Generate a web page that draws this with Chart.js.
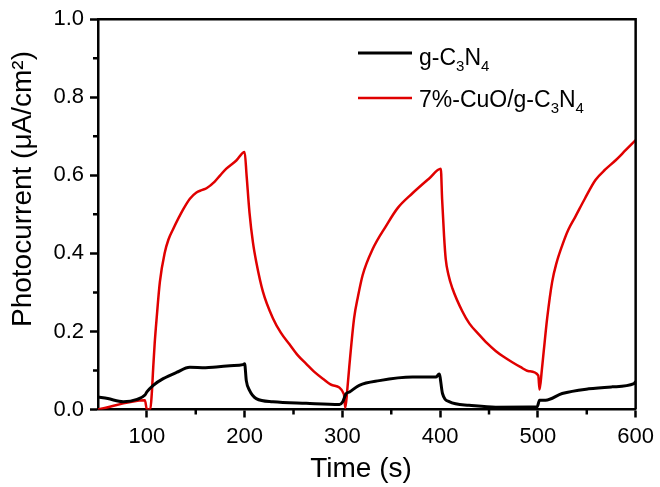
<!DOCTYPE html>
<html>
<head>
<meta charset="utf-8">
<script src="https://cdn.jsdelivr.net/npm/chart.js@4/dist/chart.umd.min.js"></script>
<style>
  body { margin: 0; background: #fff; }
  #wrap { width: 660px; height: 487px; }
</style>
</head>
<body>
<div id="wrap"><canvas id="photoChart" width="660" height="487"></canvas></div>
<script>
// g-C3N4 (black)
const timeBlack = [50, 60, 75.8, 90, 98, 100, 106.5, 116.7, 130.3, 143.9, 160, 171, 185, 198.3, 200, 201.7, 205, 211.9, 228.9, 263, 297, 300.4, 303.7, 307.3, 317.3, 337.8, 371.7, 395.6, 399, 402.4, 409.2, 429.6, 456.8, 499.3, 501.7, 507.8, 524.8, 552, 575.8, 598.3, 600];
const valBlack = [0.032, 0.028, 0.02, 0.026, 0.037, 0.045, 0.062, 0.079, 0.095, 0.108, 0.107, 0.109, 0.112, 0.115, 0.117, 0.074, 0.049, 0.028, 0.02, 0.016, 0.013, 0.02, 0.04, 0.045, 0.062, 0.074, 0.083, 0.083, 0.091, 0.041, 0.02, 0.011, 0.006, 0.007, 0.024, 0.024, 0.041, 0.053, 0.058, 0.066, 0.072];

// 7%-CuO/g-C3N4 (red)
const timeRed = [50, 98, 100, 103.5, 105, 106.5, 108, 110, 113.3, 118.4, 122, 126.8, 137, 144, 150.7, 156, 161, 169.4, 175, 181.3, 191.5, 200,
    202, 205, 208.5, 211.9, 218.7, 228.9, 237, 245.9, 254, 263, 271, 280, 290, 301.5,
    303, 305, 307, 312, 316, 320.7, 331, 344.6, 356.5, 371.7, 388.8, 400.7,
    402, 404, 405.7, 408.5, 412.6, 422.8, 430, 439.8, 448, 456.8, 465, 473.8, 482, 490.8, 500.4,
    501.7, 504, 506, 509.5, 514.6, 519, 524.8, 531, 538.5, 548, 558.9, 569, 579.3, 590, 600];
const valRed = [0, 0.024, 0, 0, 0.04, 0.108, 0.17, 0.234, 0.327, 0.403, 0.435, 0.462, 0.512, 0.54, 0.556, 0.562, 0.567, 0.584, 0.6, 0.617, 0.638, 0.66,
    0.6, 0.504, 0.428, 0.378, 0.302, 0.234, 0.197, 0.167, 0.14, 0.117, 0.097, 0.079, 0.062, 0.04,
    0.004, 0.05, 0.108, 0.234, 0.29, 0.344, 0.411, 0.47, 0.516, 0.554, 0.592, 0.617,
    0.54, 0.445, 0.386, 0.345, 0.31, 0.251, 0.22, 0.192, 0.17, 0.15, 0.135, 0.121, 0.109, 0.098, 0.087,
    0.051, 0.1, 0.15, 0.234, 0.327, 0.375, 0.42, 0.46, 0.495, 0.54, 0.588, 0.615, 0.638, 0.665, 0.69];

const xMajorTicks = [100, 200, 300, 400, 500, 600];
const xMinorTicks = [150, 250, 350, 450, 550];
const yMajorTicks = [0, 0.2, 0.4, 0.6, 0.8, 1.0];
const yMinorTicks = [0.1, 0.3, 0.5, 0.7, 0.9];

// "_" marks the next character as a subscript
const legendLabels = ['g-C_3N_4', '7%-CuO/g-C_3N_4'];
const legendColors = ['#000000', '#e00000'];
const xTitle = 'Time (s)';
const yTitle = 'Photocurrent (\u03bcA/cm\u00b2)';

const FONT = '"Liberation Sans", Arial, sans-serif';

function toPoints(xs, ys) {
    return xs.map((x, i) => ({ x: x, y: ys[i] }));
}

function drawRich(ctx, text, x, y, size) {
    let i = 0;
    while (i < text.length) {
        if (text[i] === '_') {
            ctx.font = Math.round(size * 0.65) + 'px ' + FONT;
            ctx.fillText(text[i + 1], x, y + size * 0.28);
            x += ctx.measureText(text[i + 1]).width;
            i += 2;
        } else {
            let j = i;
            while (j < text.length && text[j] !== '_') j++;
            const part = text.slice(i, j);
            ctx.font = size + 'px ' + FONT;
            ctx.fillText(part, x, y);
            x += ctx.measureText(part).width;
            i = j;
        }
    }
}

const decorations = {
    id: 'decorations',
    afterDraw(chart) {
        const ctx = chart.ctx;
        const area = chart.chartArea;
        const xs = chart.scales.x;
        const ys = chart.scales.y;
        ctx.save();
        ctx.strokeStyle = '#000';
        ctx.lineWidth = 2.5;
        // top and right frame
        ctx.beginPath();
        ctx.moveTo(area.left, area.top);
        ctx.lineTo(area.right, area.top);
        ctx.lineTo(area.right, area.bottom);
        ctx.stroke();
        // minor ticks
        ctx.beginPath();
        xMinorTicks.forEach(v => {
            const px = xs.getPixelForValue(v);
            ctx.moveTo(px, area.bottom);
            ctx.lineTo(px, area.bottom + 5);
        });
        yMinorTicks.forEach(v => {
            const py = ys.getPixelForValue(v);
            ctx.moveTo(area.left, py);
            ctx.lineTo(area.left - 5, py);
        });
        ctx.stroke();

        // axis titles
        ctx.fillStyle = '#000';
        ctx.font = '28px ' + FONT;
        ctx.textAlign = 'center';
        ctx.textBaseline = 'alphabetic';
        ctx.fillText(xTitle, 361, 477);
        ctx.save();
        ctx.translate(31, 189);
        ctx.rotate(-Math.PI / 2);
        ctx.fillText(yTitle, 0, 0);
        ctx.restore();

        // legend
        ctx.textAlign = 'left';
        const rows = [{ line: 53, base: 65 }, { line: 98, base: 107 }];
        legendLabels.forEach((lab, i) => {
            ctx.strokeStyle = legendColors[i];
            ctx.lineWidth = i === 0 ? 3 : 2.5;
            ctx.beginPath();
            ctx.moveTo(358, rows[i].line);
            ctx.lineTo(412, rows[i].line);
            ctx.stroke();
            ctx.fillStyle = '#000';
            drawRich(ctx, lab, 419, rows[i].base, 23);
        });
        ctx.restore();
    }
};

const ctx = document.getElementById('photoChart').getContext('2d');
new Chart(ctx, {
    type: 'line',
    data: {
        datasets: [{
            label: 'g-C3N4',
            data: toPoints(timeBlack, valBlack),
            borderColor: '#000000',
            borderWidth: 3,
            pointRadius: 0,
            cubicInterpolationMode: 'monotone',
            fill: false
        }, {
            label: '7%-CuO/g-C3N4',
            data: toPoints(timeRed, valRed),
            borderColor: '#e00000',
            borderWidth: 2.5,
            pointRadius: 0,
            cubicInterpolationMode: 'monotone',
            fill: false
        }]
    },
    options: {
        responsive: false,
        animation: false,
        devicePixelRatio: 1,
        layout: { padding: { top: 14, right: 23, left: 0, bottom: 0 } },
        plugins: { legend: { display: false }, tooltip: { enabled: false } },
        scales: {
            x: {
                type: 'linear',
                min: 50,
                max: 600,
                afterBuildTicks: s => { s.ticks = xMajorTicks.map(v => ({ value: v })); },
                afterFit: s => { s.height = 77.5; },
                ticks: {
                    color: '#000',
                    font: { family: FONT, size: 22 },
                    padding: 6,
                    maxRotation: 0
                },
                grid: {
                    drawOnChartArea: false,
                    drawTicks: true,
                    tickLength: 8,
                    tickWidth: 2.5,
                    tickColor: '#000'
                },
                border: { display: true, color: '#000', width: 2.5 }
            },
            y: {
                min: 0,
                max: 1,
                afterBuildTicks: s => { s.ticks = yMajorTicks.map(v => ({ value: v })); },
                afterFit: s => { s.width = 98; },
                ticks: {
                    color: '#000',
                    font: { family: FONT, size: 22 },
                    padding: 6,
                    callback: v => v.toFixed(1)
                },
                grid: {
                    drawOnChartArea: false,
                    drawTicks: true,
                    tickLength: 8,
                    tickWidth: 2.5,
                    tickColor: '#000'
                },
                border: { display: true, color: '#000', width: 2.5 }
            }
        }
    },
    plugins: [decorations]
});
</script>
</body>
</html>
